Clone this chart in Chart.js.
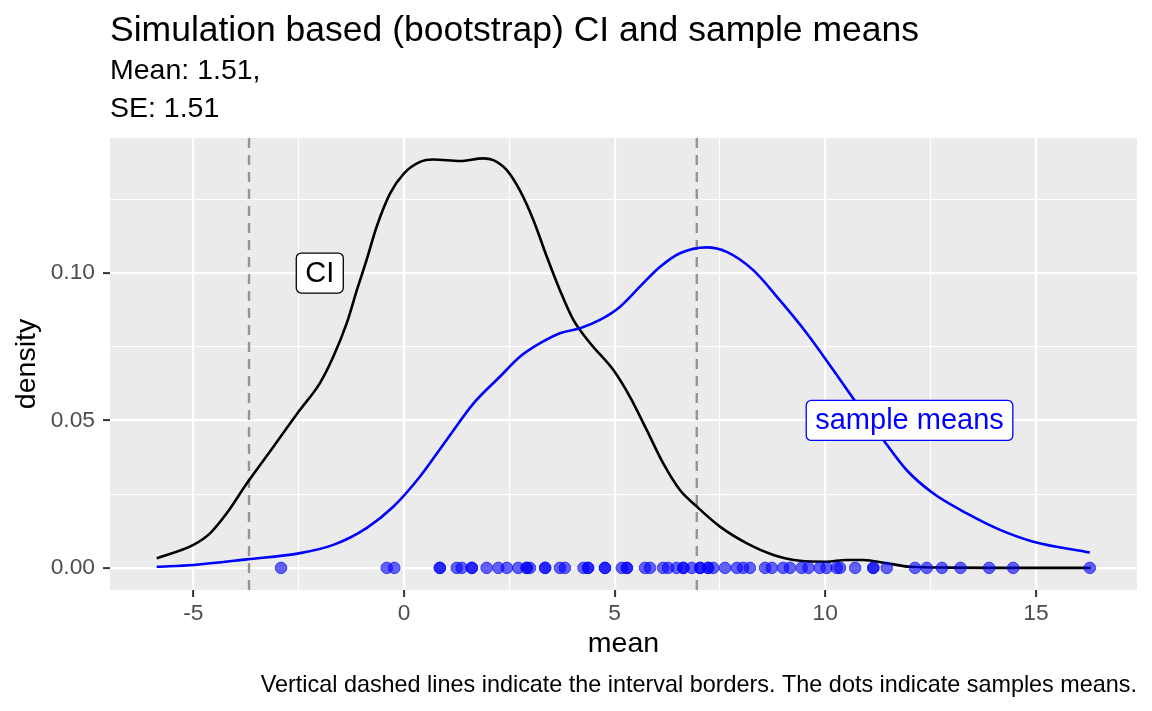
<!DOCTYPE html>
<html>
<head>
<meta charset="utf-8">
<script src="https://cdn.jsdelivr.net/npm/chart.js@4.4.1/dist/chart.umd.min.js"></script>
<style>
  html, body { margin: 0; padding: 0; background: #ffffff; }
  #wrap { width: 1152px; height: 711px; position: relative; }
</style>
</head>
<body>
<div id="wrap"><canvas id="c"></canvas></div>
<script>
// ---------- data ----------
const titleText = "Simulation based (bootstrap) CI and sample means";
const subtitleLines = ["Mean: 1.51,", "SE: 1.51"];
const captionText = "Vertical dashed lines indicate the interval borders. The dots indicate samples means.";
const xTitle = "mean";
const yTitle = "density";

// density curve of the CI distribution (black)
const ciX = [-5.87, -5.0, -4.6, -4.21, -3.73, -3.1, -2.47, -2.0, -1.68, -1.36, -1.12, -0.89, -0.65, -0.33, 0, 0.38, 0.7, 1.33, 1.88, 2.12, 2.44, 2.75, 3.07, 3.39, 3.7, 4.02, 4.42, 4.97, 5.36, 5.76, 6.15, 6.55, 6.95, 7.5, 8.13, 8.77, 9.4, 10.03, 10.5, 10.9, 11.46, 12.0, 13.0, 14.0, 15.0, 16.3];
const ciY = [0.0033, 0.0078, 0.0118, 0.0185, 0.0287, 0.0411, 0.0536, 0.0626, 0.0716, 0.083, 0.0942, 0.1044, 0.1157, 0.127, 0.1338, 0.1377, 0.1385, 0.138, 0.1389, 0.1383, 0.1349, 0.128, 0.118, 0.1055, 0.0942, 0.0841, 0.0762, 0.0671, 0.0581, 0.0468, 0.0355, 0.0264, 0.0208, 0.014, 0.0084, 0.0044, 0.0024, 0.0021, 0.0027, 0.0027, 0.0016, 0.0004, 0.0001, 0, 0, 0];

// density curve of the sample means (blue)
const smX = [-5.87, -5.0, -3.73, -2.47, -1.68, -0.89, -0.25, 0.38, 1.01, 1.65, 2.28, 2.75, 3.23, 3.7, 4.18, 4.65, 5.13, 5.6, 6.08, 6.55, 7.18, 7.66, 8.29, 8.92, 9.56, 10.19, 10.66, 11.38, 11.93, 12.56, 13.36, 14.15, 14.94, 16.28];
const smY = [0.0004, 0.001, 0.0029, 0.005, 0.0078, 0.0135, 0.0208, 0.031, 0.0434, 0.0558, 0.0649, 0.0716, 0.0762, 0.0796, 0.0813, 0.0841, 0.0886, 0.0954, 0.1021, 0.1067, 0.1087, 0.1072, 0.101, 0.0908, 0.0796, 0.0671, 0.0575, 0.0434, 0.0332, 0.0253, 0.0185, 0.0129, 0.0089, 0.0052];

// individual sample means (dots on the baseline)
const sampleMeans = [-2.92, -0.41, -0.23, 0.85, 0.85, 1.25, 1.37, 1.61, 1.61, 1.96, 2.24, 2.44, 2.71, 2.91, 2.91, 2.99, 3.35, 3.35, 3.7, 3.82, 4.26, 4.37, 4.37, 4.77, 4.77, 5.17, 5.29, 5.29, 5.72, 5.84, 6.15, 6.27, 6.47, 6.63, 6.63, 6.83, 7.03, 7.03, 7.22, 7.22, 7.34, 7.62, 7.9, 8.05, 8.21, 8.57, 8.73, 9.0, 9.16, 9.44, 9.6, 9.87, 10.03, 10.27, 10.35, 10.71, 11.14, 11.14, 11.46, 12.13, 12.41, 12.77, 13.21, 13.89, 14.46, 16.28];

// interval borders (dashed lines)
const ciBounds = [-3.68, 6.95];

// annotation labels
const labelTexts = ["CI", "sample means"];
const labelX = [-2.0, 12.0];
const labelY = [0.1, 0.05];
const labelColors = ["#000000", "#0000FF"];

// ticks
const xMajorTicks = [-5, 0, 5, 10, 15];
const xMinorTicks = [-2.5, 2.5, 7.5, 12.5];
const yMajorTicks = [0, 0.05, 0.10];
const yMinorTicks = [0.025, 0.075, 0.125];
const xRange = [-6.98, 17.4];
const yRange = [-0.0075, 0.1458];

// ---------- chart ----------
const FONT = "'Liberation Sans', Arial, 'DejaVu Sans', sans-serif";
const toPts = (xs, ys) => xs.map((x, i) => ({ x: x, y: ys[i] }));
const isMajor = (v, majors) => majors.some(m => Math.abs(m - v) < 1e-9);

const ggPlugin = {
  id: 'ggDecor',
  beforeDraw(chart) {
    const { ctx, chartArea: a } = chart;
    ctx.save();
    ctx.fillStyle = '#EBEBEB';
    ctx.fillRect(a.left, a.top, a.right - a.left, a.bottom - a.top);
    ctx.restore();
  },
  beforeDatasetsDraw(chart) {
    const { ctx, chartArea: a, scales: { x } } = chart;
    ctx.save();
    ctx.beginPath();
    ctx.rect(a.left, a.top, a.right - a.left, a.bottom - a.top);
    ctx.clip();
    ctx.strokeStyle = '#959595';
    ctx.lineWidth = 2.4;
    ctx.setLineDash([10, 7]);
    ciBounds.forEach(v => {
      const px = x.getPixelForValue(v);
      ctx.beginPath();
      ctx.moveTo(px, a.top);
      ctx.lineTo(px, a.bottom);
      ctx.stroke();
    });
    ctx.restore();
  },
  afterDatasetsDraw(chart) {
    const { ctx, scales: { x, y } } = chart;
    ctx.save();
    ctx.font = "29px " + FONT;
    ctx.textAlign = 'center';
    ctx.textBaseline = 'middle';
    labelTexts.forEach((t, i) => {
      const cx = x.getPixelForValue(labelX[i]);
      const cy = y.getPixelForValue(labelY[i]);
      const w = ctx.measureText(t).width + 18;
      const h = 40;
      ctx.beginPath();
      ctx.roundRect(cx - w / 2, cy - h / 2, w, h, 5);
      ctx.fillStyle = '#FFFFFF';
      ctx.fill();
      ctx.lineWidth = 1.3;
      ctx.strokeStyle = labelColors[i];
      ctx.stroke();
      ctx.fillStyle = labelColors[i];
      ctx.fillText(t, cx, cy + 1);
    });
    ctx.restore();
  },
  afterDraw(chart) {
    const { ctx, chartArea: a } = chart;
    ctx.save();
    ctx.fillStyle = '#000000';
    ctx.textBaseline = 'alphabetic';
    ctx.textAlign = 'left';
    ctx.font = "35.5px " + FONT;
    ctx.fillText(titleText, a.left, 41);
    ctx.font = "28.5px " + FONT;
    ctx.fillText(subtitleLines[0], a.left, 79);
    ctx.fillText(subtitleLines[1], a.left, 117);
    ctx.font = "23.4px " + FONT;
    ctx.textAlign = 'right';
    ctx.fillText(captionText, a.right, 692);
    ctx.restore();
  }
};

const gridWidth = (majors) => (c) => (c.tick && isMajor(c.tick.value, majors)) ? 2.2 : 1.1;
const tickCol = (majors) => (c) => (c.tick && isMajor(c.tick.value, majors)) ? '#333333' : 'rgba(0,0,0,0)';

new Chart(document.getElementById('c'), {
  type: 'scatter',
  data: {
    datasets: [
      {
        label: 'samples',
        data: sampleMeans.map(v => ({ x: v, y: 0 })),
        pointRadius: 5.8,
        pointBackgroundColor: 'rgba(0,0,255,0.6)',
        pointBorderColor: 'rgba(0,0,255,0.6)',
        pointBorderWidth: 1,
        showLine: false
      },
      {
        label: 'sample means density',
        data: toPts(smX, smY),
        showLine: true,
        borderColor: '#0000FF',
        borderWidth: 2.6,
        pointRadius: 0,
        fill: false,
        cubicInterpolationMode: 'monotone'
      },
      {
        label: 'CI density',
        data: toPts(ciX, ciY),
        showLine: true,
        borderColor: '#000000',
        borderWidth: 2.6,
        pointRadius: 0,
        fill: false,
        cubicInterpolationMode: 'monotone'
      }
    ]
  },
  options: {
    responsive: true,
    maintainAspectRatio: false,
    animation: false,
    events: [],
    layout: { padding: { top: 138, right: 15, bottom: 45, left: 0 } },
    plugins: {
      legend: { display: false },
      tooltip: { enabled: false },
      title: { display: false }
    },
    scales: {
      x: {
        type: 'linear',
        min: xRange[0],
        max: xRange[1],
        afterBuildTicks: (s) => { s.ticks = xMajorTicks.concat(xMinorTicks).sort((p, q) => p - q).map(v => ({ value: v })); },
        afterFit: (s) => { s.height = 76; },
        border: { display: false },
        grid: {
          color: '#FFFFFF',
          lineWidth: gridWidth(xMajorTicks),
          drawTicks: true,
          tickLength: 7,
          tickColor: tickCol(xMajorTicks),
          tickWidth: 2
        },
        ticks: {
          autoSkip: false,
          maxRotation: 0,
          padding: 3,
          color: '#4D4D4D',
          font: { family: FONT, size: 22.8 },
          callback: (v) => isMajor(v, xMajorTicks) ? String(v) : ''
        },
        title: {
          display: true,
          text: xTitle,
          color: '#000000',
          font: { family: FONT, size: 28.5 },
          padding: { top: 0, bottom: 5 }
        }
      },
      y: {
        type: 'linear',
        min: yRange[0],
        max: yRange[1],
        afterBuildTicks: (s) => { s.ticks = yMajorTicks.concat(yMinorTicks).sort((p, q) => p - q).map(v => ({ value: v })); },
        afterFit: (s) => { s.width = 110; },
        border: { display: false },
        grid: {
          color: '#FFFFFF',
          lineWidth: gridWidth(yMajorTicks),
          drawTicks: true,
          tickLength: 7,
          tickColor: tickCol(yMajorTicks),
          tickWidth: 2
        },
        ticks: {
          autoSkip: false,
          padding: 8,
          color: '#4D4D4D',
          font: { family: FONT, size: 22.8 },
          callback: (v) => isMajor(v, yMajorTicks) ? v.toFixed(2) : ''
        },
        title: {
          display: true,
          text: yTitle,
          color: '#000000',
          font: { family: FONT, size: 28.5 },
          padding: { top: 10, bottom: 0 }
        }
      }
    }
  },
  plugins: [ggPlugin]
});
</script>
</body>
</html>
